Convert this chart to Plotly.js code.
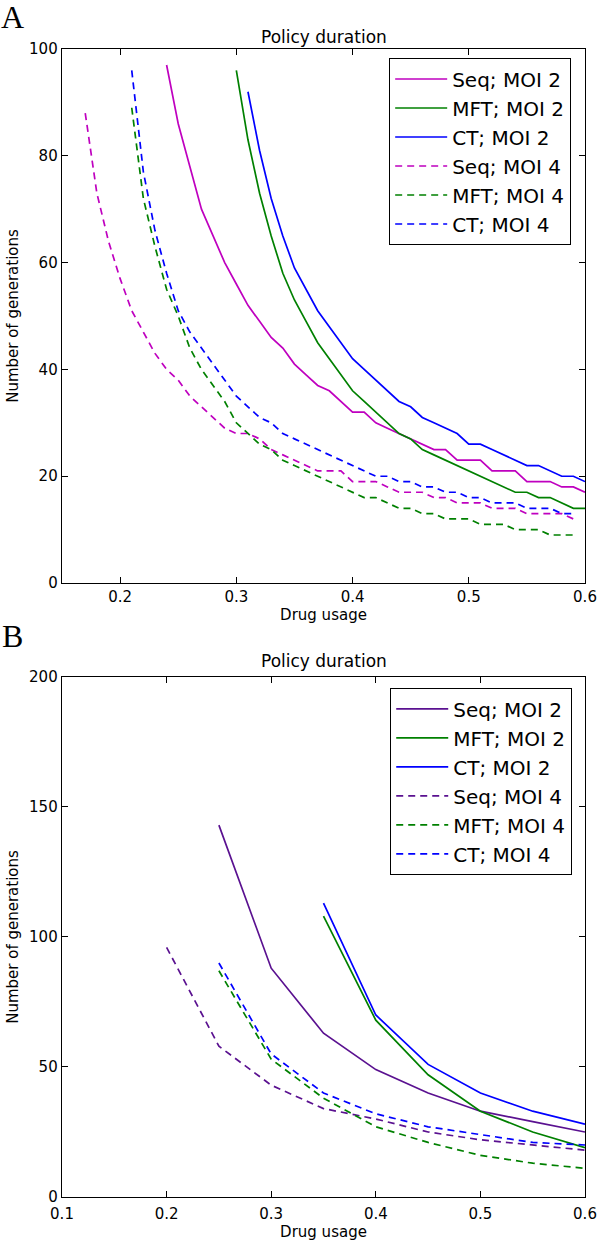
<!DOCTYPE html>
<html>
<head>
<meta charset="utf-8">
<script src="https://cdn.plot.ly/plotly-3.0.1.min.js"></script>
<style>
  html, body { margin: 0; padding: 0; background: #ffffff; }
  #chart { width: 600px; height: 1257px; }
</style>
</head>
<body>
<div id="chart"></div>
<script>
// ---------- Panel A data (drug usage step 0.01) ----------
const usageA = [0.17,0.18,0.19,0.20,0.21,0.22,0.23,0.24,0.25,0.26,0.27,0.28,0.29,0.30,0.31,0.32,0.33,0.34,0.35,0.36,0.37,0.38,0.39,0.40,0.41,0.42,0.43,0.44,0.45,0.46,0.47,0.48,0.49,0.50,0.51,0.52,0.53,0.54,0.55,0.56,0.57,0.58,0.59,0.60];
const seqMoi2A = [97,86,78,70,65,60,56,52,49,46,44,41,39,37,36,34,32,32,30,29,28,27,26,25,25,23,23,23,21,21,21,19,19,19,18,18,17];          // from 0.24
const mftMoi2A = [96,83,73,65,58,53,49,45,42,39,36,34,32,30,28,27,25,24,23,22,21,20,19,18,17,17,16,16,15,14,14];                           // from 0.30
const ctMoi2A  = [92,81,72,65,59,55,51,48,45,42,40,38,36,34,33,31,30,29,28,26,26,25,24,23,22,22,21,20,20,19];                              // from 0.31
const seqMoi4A = [88,73,64,57,51,47,43,40,38,35,33,31,29,28,28,27,25,24,23,22,21,21,21,19,19,19,18,17,17,17,16,16,15,15,15,14,14,14,13,13,13,13,12]; // from 0.17
const mftMoi4A = [89,72,63,55,50,44,40,37,34,30,28,26,25,23,22,21,20,19,18,17,16,16,15,14,14,13,13,12,12,12,11,11,11,10,10,10,9,9,9];    // from 0.21
const ctMoi4A  = [96,77,66,58,51,47,44,41,38,35,33,31,30,28,27,26,25,24,23,22,21,20,20,19,19,18,18,17,17,16,16,15,15,15,14,14,14,13,13];   // from 0.21
const startA = {seqMoi2: 0.24, mftMoi2: 0.30, ctMoi2: 0.31, seqMoi4: 0.17, mftMoi4: 0.21, ctMoi4: 0.21};

// ---------- Panel B data (drug usage step 0.05) ----------
const usageB = [0.20,0.25,0.30,0.35,0.40,0.45,0.50,0.55,0.60];
const seqMoi2B = [143,88,63,49,40,33,29,25];      // from 0.25
const mftMoi2B = [108,68,47,33,25,19];            // from 0.35
const ctMoi2B  = [113,70,51,40,33,28];            // from 0.35
const seqMoi4B = [96,58,43,34,30,25,22,20,18];    // from 0.20
const mftMoi4B = [87,53,38,27,21,16,13,11];       // from 0.25
const ctMoi4B  = [90,55,40,32,27,24,21,20];       // from 0.25
const startB = {seqMoi2: 0.25, mftMoi2: 0.35, ctMoi2: 0.35, seqMoi4: 0.20, mftMoi4: 0.25, ctMoi4: 0.25};

const seriesNames = ['Seq; MOI 2','MFT; MOI 2','CT; MOI 2','Seq; MOI 4','MFT; MOI 4','CT; MOI 4'];
const panelTitle = 'Policy duration';
const xTitle = 'Drug usage';
const yTitle = 'Number of generations';

// ---------- styles ----------
const MAG = '#bf00bf', GRN = '#008000', BLU = '#0000ff', PUR = '#5a1190';
const FONT = 'DejaVu Sans, Verdana, sans-serif';
const DASH = '7px,5px';
const LW = 1.7;

function xsFrom(usage, start, n) {
  const i = usage.findIndex(v => Math.abs(v - start) < 1e-9);
  return usage.slice(i, i + n);
}
function tr(usage, start, ys, name, color, dash, xa, ya, leg) {
  return {
    x: xsFrom(usage, start, ys.length), y: ys, name: name,
    type: 'scatter', mode: 'lines',
    line: {color: color, width: LW, dash: dash},
    xaxis: xa, yaxis: ya, legend: leg, hoverinfo: 'skip'
  };
}

const data = [
  tr(usageA, startA.seqMoi2, seqMoi2A, seriesNames[0], MAG, 'solid', 'x', 'y', 'legend'),
  tr(usageA, startA.mftMoi2, mftMoi2A, seriesNames[1], GRN, 'solid', 'x', 'y', 'legend'),
  tr(usageA, startA.ctMoi2,  ctMoi2A,  seriesNames[2], BLU, 'solid', 'x', 'y', 'legend'),
  tr(usageA, startA.seqMoi4, seqMoi4A, seriesNames[3], MAG, DASH, 'x', 'y', 'legend'),
  tr(usageA, startA.mftMoi4, mftMoi4A, seriesNames[4], GRN, DASH, 'x', 'y', 'legend'),
  tr(usageA, startA.ctMoi4,  ctMoi4A,  seriesNames[5], BLU, DASH, 'x', 'y', 'legend'),
  tr(usageB, startB.seqMoi2, seqMoi2B, seriesNames[0], PUR, 'solid', 'x2', 'y2', 'legend2'),
  tr(usageB, startB.mftMoi2, mftMoi2B, seriesNames[1], GRN, 'solid', 'x2', 'y2', 'legend2'),
  tr(usageB, startB.ctMoi2,  ctMoi2B,  seriesNames[2], BLU, 'solid', 'x2', 'y2', 'legend2'),
  tr(usageB, startB.seqMoi4, seqMoi4B, seriesNames[3], PUR, DASH, 'x2', 'y2', 'legend2'),
  tr(usageB, startB.mftMoi4, mftMoi4B, seriesNames[4], GRN, DASH, 'x2', 'y2', 'legend2'),
  tr(usageB, startB.ctMoi4,  ctMoi4B,  seriesNames[5], BLU, DASH, 'x2', 'y2', 'legend2')
];

const axisCommon = {
  showline: true, linecolor: '#000', linewidth: 1.3, mirror: 'ticks',
  ticks: 'inside', ticklen: 6, tickwidth: 1, tickcolor: '#000',
  showgrid: false, zeroline: false,
  tickfont: {family: FONT, size: 15, color: '#000'},
  fixedrange: true
};

const legendCommon = {
  xanchor: 'left', yanchor: 'top',
  bordercolor: '#000', borderwidth: 1.3, bgcolor: '#fff',
  font: {family: FONT, size: 20, color: '#000'},
  itemwidth: 52,
  tracegroupgap: 0
};

const layout = {
  width: 600, height: 1257,
  margin: {l: 62, r: 15, t: 49, b: 60},
  paper_bgcolor: '#fff', plot_bgcolor: '#fff',
  showlegend: true,
  font: {family: FONT, color: '#000'},
  xaxis: Object.assign({}, axisCommon, {
    domain: [0, 1], anchor: 'y', range: [0.15, 0.6], tick0: 0, dtick: 0.1, tickformat: '.1f',
    title: {text: xTitle, font: {family: FONT, size: 15}, standoff: 4}
  }),
  yaxis: Object.assign({}, axisCommon, {
    domain: [0.5348, 1], anchor: 'x', range: [0, 100], dtick: 20,
    title: {text: yTitle, font: {family: FONT, size: 15}, standoff: 6}
  }),
  xaxis2: Object.assign({}, axisCommon, {
    domain: [0, 1], anchor: 'y2', range: [0.1, 0.6], tick0: 0, dtick: 0.1, tickformat: '.1f',
    ticklabelstandoff: 3,
    title: {text: xTitle, font: {family: FONT, size: 15}, standoff: 4}
  }),
  yaxis2: Object.assign({}, axisCommon, {
    domain: [0, 0.453], anchor: 'x2', range: [0, 200], dtick: 50,
    title: {text: yTitle, font: {family: FONT, size: 15}, standoff: 6}
  }),
  legend: Object.assign({}, legendCommon, {x: 0.625, y: 0.992}),
  legend2: Object.assign({}, legendCommon, {x: 0.627, y: 0.4434}),
  annotations: [
    {text: panelTitle, xref: 'paper', yref: 'paper', x: 0.5, y: 1.0105, xanchor: 'center', yanchor: 'middle',
     showarrow: false, font: {family: FONT, size: 17, color: '#000'}},
    {text: panelTitle, xref: 'paper', yref: 'paper', x: 0.5, y: 0.4669, xanchor: 'center', yanchor: 'middle',
     showarrow: false, font: {family: FONT, size: 17, color: '#000'}},
    {text: 'A', xref: 'paper', yref: 'paper', x: -0.0937, y: 1.0279, xanchor: 'center', yanchor: 'middle',
     showarrow: false, font: {family: 'Liberation Serif, Times New Roman, serif', size: 32, color: '#000'}},
    {text: 'B', xref: 'paper', yref: 'paper', x: -0.0937, y: 0.4887, xanchor: 'center', yanchor: 'middle',
     showarrow: false, font: {family: 'Liberation Serif, Times New Roman, serif', size: 32, color: '#000'}}
  ]
};

Plotly.newPlot('chart', data, layout, {staticPlot: true, displayModeBar: false});
</script>
</body>
</html>
